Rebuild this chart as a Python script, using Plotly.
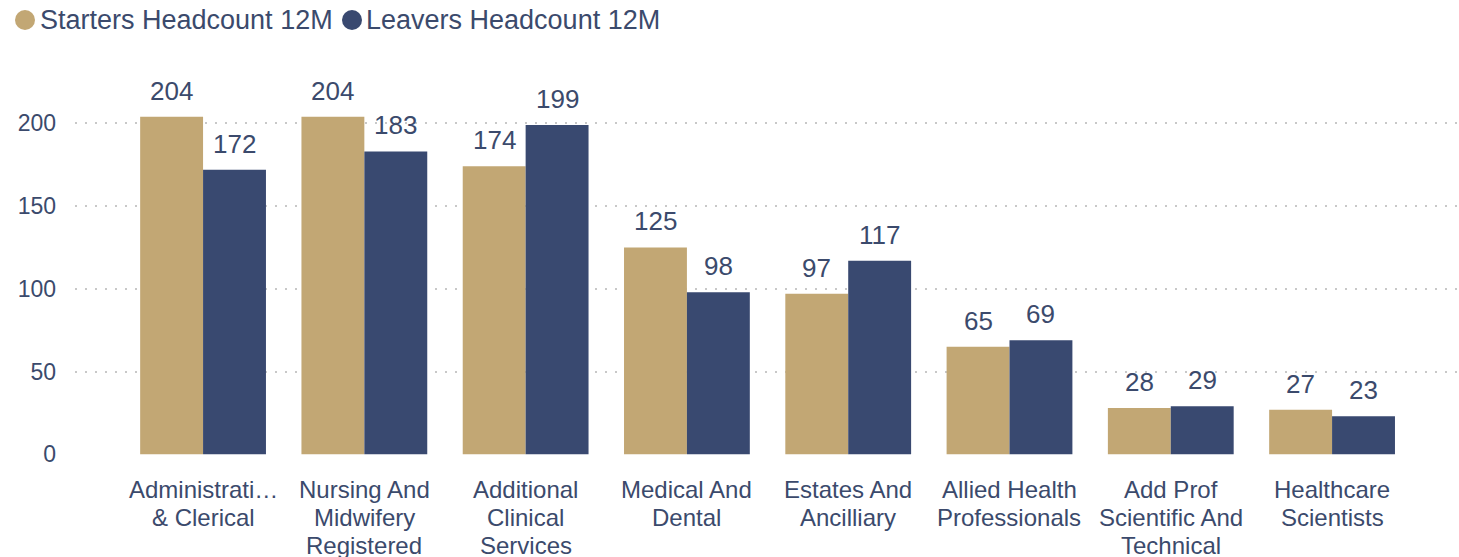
import plotly.graph_objects as go

categories = [
    "Administrati…<br>& Clerical",
    "Nursing And<br>Midwifery<br>Registered",
    "Additional<br>Clinical<br>Services",
    "Medical And<br>Dental",
    "Estates And<br>Ancilliary",
    "Allied Health<br>Professionals",
    "Add Prof<br>Scientific And<br>Technical",
    "Healthcare<br>Scientists",
]
series_names = ["Starters Headcount 12M", "Leavers Headcount 12M"]
starters = [204, 204, 174, 125, 97, 65, 28, 27]
leavers = [172, 183, 199, 98, 117, 69, 29, 23]

GOLD = "#C2A774"
NAVY = "#394970"
TEXT = "#3B4A6C"
FONT = "Arial, Liberation Sans, sans-serif"
BARGAP = 0.22
L_MARGIN = 75
PLOT_W = 1459 - L_MARGIN

fig = go.Figure()
fig.add_trace(go.Bar(name=series_names[0], x=list(range(len(categories))), y=starters,
                     marker=dict(color=GOLD, line=dict(width=0))))
fig.add_trace(go.Bar(name=series_names[1], x=list(range(len(categories))), y=leavers,
                     marker=dict(color=NAVY, line=dict(width=0))))

# value labels above each bar
half = (1 - BARGAP) / 4
for i in range(len(categories)):
    for vals, off in ((starters, -half), (leavers, half)):
        fig.add_annotation(x=i + off, y=vals[i], text=str(vals[i]), showarrow=False,
                           yshift=26, yanchor="middle",
                           font=dict(size=26, color=TEXT, family=FONT))

# category labels, one annotation per line for tight line spacing
for i, cat in enumerate(categories):
    for k, line in enumerate(cat.split("<br>")):
        fig.add_annotation(x=i, y=0, text=line, showarrow=False, yanchor="middle",
                           yshift=-35 - 28 * k, font=dict(size=24, color=TEXT, family=FONT))

# legend row: coloured dot followed by series name
for name, col, dot_x, text_x in ((series_names[0], GOLD, 25, 38),
                                 (series_names[1], NAVY, 352, 364)):
    fig.add_shape(type="circle", xref="paper", yref="paper",
                  xsizemode="pixel", ysizemode="pixel",
                  xanchor=(dot_x - L_MARGIN) / PLOT_W, yanchor=1,
                  x0=-10, x1=10, y0=30 - 10, y1=30 + 10,
                  fillcolor=col, line=dict(width=0))
    fig.add_annotation(xref="paper", yref="paper", x=0, y=1, xanchor="left", yanchor="middle",
                       xshift=text_x - L_MARGIN, yshift=30, showarrow=False, text=name,
                       font=dict(size=27, color=TEXT, family=FONT))

fig.update_layout(
    width=1459, height=557,
    margin=dict(l=L_MARGIN, r=0, t=50, b=102),
    paper_bgcolor="white", plot_bgcolor="white",
    barmode="group", bargap=BARGAP, bargroupgap=0,
    font=dict(family=FONT, color=TEXT, size=20),
    showlegend=False,
    xaxis=dict(range=[-0.794, 7.787], showgrid=False, zeroline=False, showline=False,
               showticklabels=False, ticks=""),
    yaxis=dict(range=[-0.4, 244.3], tickvals=[0, 50, 100, 150, 200], showgrid=True,
               gridcolor="#C8C8C8", griddash="2px,8px", gridwidth=2,
               zeroline=False, showline=False, ticks="",
               tickfont=dict(size=23, color=TEXT), ticklabelstandoff=18),
)

fig.write_html("out.html")
